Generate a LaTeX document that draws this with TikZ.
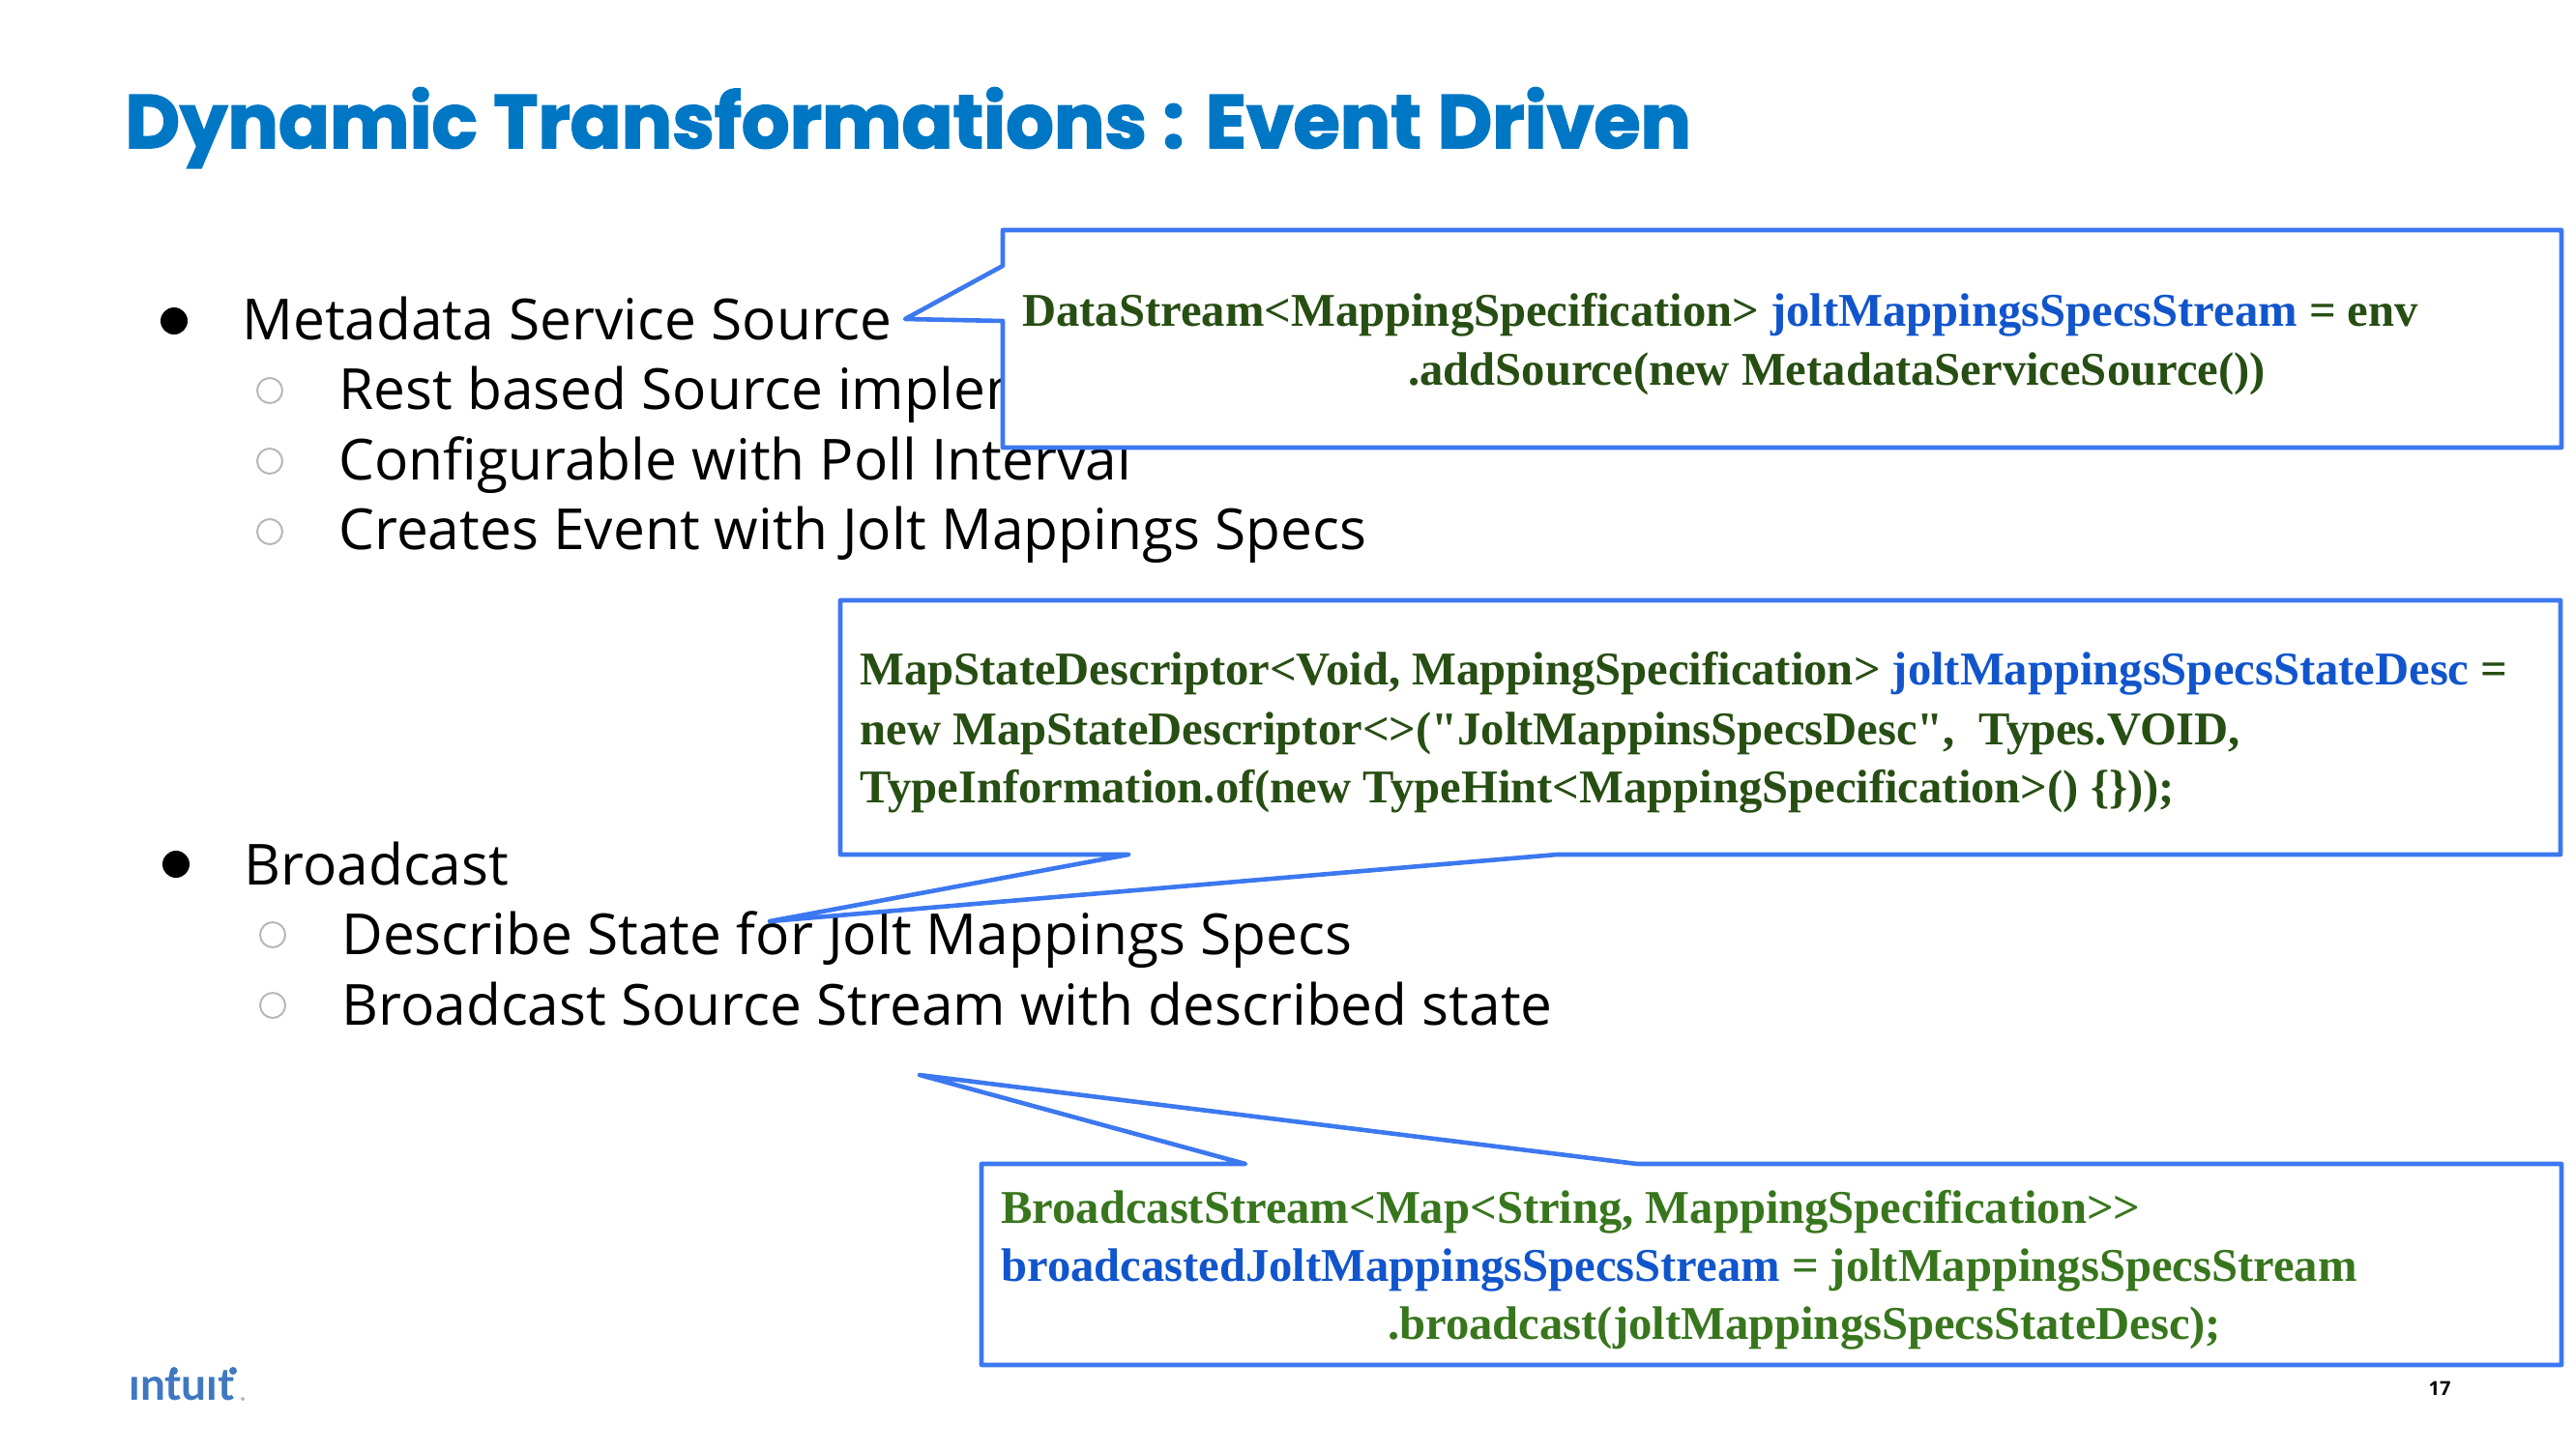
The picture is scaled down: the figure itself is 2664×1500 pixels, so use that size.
\documentclass[tikz,border=0pt]{standalone}
\usepackage{fontspec}
\setmainfont{Open Sans}
\newfontfamily\titlefont[FakeBold=2.2]{Poppins Bold}
\newfontfamily\codefont{Liberation Serif}
\newfontfamily\logofont{Lato}
\definecolor{titleblue}{HTML}{0077C5}
\definecolor{calloutblue}{HTML}{3C78F0}
\definecolor{codedark}{HTML}{274E13}
\definecolor{codegreen}{HTML}{38761D}
\definecolor{codeblue}{HTML}{1155CC}
\definecolor{ringgrey}{HTML}{B7B7B7}
\definecolor{logoblue}{HTML}{3F78C0}
\tikzset{
  titletext/.style={anchor=base west,inner sep=0pt,text=titleblue,font=\titlefont\fontsize{39}{46}\selectfont},
  itemtext/.style={anchor=base west,inner sep=0pt,font=\fontsize{29.3}{36}\selectfont},
  codetext/.style={anchor=base west,inner sep=0pt,text=codedark,font=\codefont\bfseries\fontsize{24.3}{30}\selectfont},
  codelight/.style={codetext,text=codegreen},
  callout/.style={draw=calloutblue,fill=white,line width=2.3pt,line join=round},
  ring/.style={draw=ringgrey,line width=1pt},
}
\begin{document}
\begin{tikzpicture}[x=0.5pt,y=-0.5pt]
  \useasboundingbox (0,0) rectangle (2664,1500);
  \node[titletext] (heading) at (129,153) {Dynamic Transformations : Event Driven};
  % --- first list ---
  \fill (180,332) circle (14);
  \node[itemtext] (source) at (250,351) {Metadata Service Source};
  \draw[ring] (279,404) circle (13);
  \node[itemtext] (rest) at (350,423) {Rest based Source implementation};
  \draw[ring] (279,477) circle (13);
  \node[itemtext] (poll) at (350,496) {Configurable with Poll Interval};
  \draw[ring] (279,550) circle (13);
  \node[itemtext] (event) at (350,568) {Creates Event with Jolt Mappings Specs};
  % --- second list ---
  \fill (182,894) circle (14);
  \node[itemtext] (broadcast) at (252,915) {Broadcast};
  \draw[ring] (282,967) circle (13);
  \node[itemtext] (describe) at (353,987) {Describe State for Jolt Mappings Specs};
  \draw[ring] (282,1040) circle (13);
  \node[itemtext] (stream) at (353,1060) {Broadcast Source Stream with described state};
  % --- source callout ---
  \coordinate (A) at (1037,238);
  \coordinate (B) at (2649,238);
  \coordinate (C) at (2649,463);
  \coordinate (D) at (1037,463);
  \coordinate (E) at (936,330);
  \draw[callout] (A) -- (B) -- (C) -- (D) -- (1037,332) -- (E) -- (1037,275) -- cycle;
  \node[codetext] (srcline) at (1057,337) {DataStream<MappingSpecification> \textcolor{codeblue}{joltMappingsSpecsStream} = env};
  \node[codetext] (addline) at (1456,398) {.addSource(new MetadataServiceSource())};
  % --- state descriptor callout ---
  \coordinate (F) at (869,621);
  \coordinate (G) at (2648,621);
  \coordinate (H) at (2648,884);
  \coordinate (I) at (869,884);
  \coordinate (J) at (796,953);
  \draw[callout] (F) -- (G) -- (H) -- (1610,884) -- (J) -- (1167,884) -- (I) -- cycle;
  \node[codetext] (descline) at (889,708) {MapStateDescriptor<Void, MappingSpecification> \textcolor{codeblue}{joltMappingsSpecsStateDesc} =};
  \node[codetext] (newline) at (889,770) {new MapStateDescriptor<>("JoltMappinsSpecsDesc", \ Types.VOID,};
  \node[codetext] (typeline) at (889,830) {TypeInformation.of(new TypeHint<MappingSpecification>() \{\}));};
  % --- broadcast callout ---
  \coordinate (K) at (1015,1204);
  \coordinate (L) at (2649,1204);
  \coordinate (M) at (2649,1412);
  \coordinate (N) at (1015,1412);
  \coordinate (O) at (951,1112);
  \draw[callout] (K) -- (1288,1204) -- (O) -- (1693,1204) -- (L) -- (M) -- (N) -- cycle;
  \node[codelight] (castline) at (1035,1265) {BroadcastStream<Map<String, MappingSpecification>>};
  \node[codelight] (assignline) at (1035,1325) {\textcolor{codeblue}{broadcastedJoltMappingsSpecsStream} = joltMappingsSpecsStream};
  \node[codelight] (callline) at (1435,1385) {.broadcast(joltMappingsSpecsStateDesc);};
  % --- footer ---
  \node[anchor=base west,inner sep=0pt,text=logoblue,font=\logofont\bfseries\fontsize{23}{26}\selectfont] (logo) at (133,1448) {ıntuıt};
  \fill[logoblue] (180,1418) circle (4);
  \fill[logoblue] (241,1418) circle (4);
  \fill[ringgrey] (251,1447) circle (2);
  \node[anchor=base,inner sep=0pt,font=\bfseries\fontsize{10}{12}\selectfont] (page) at (2523,1443) {17};
\end{tikzpicture}
\end{document}
